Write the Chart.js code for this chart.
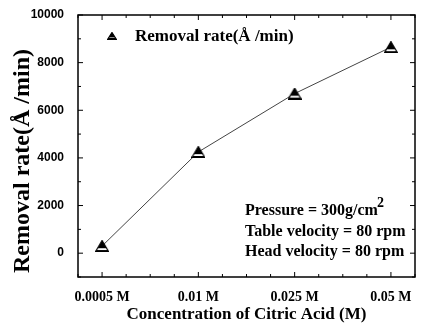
<!DOCTYPE html>
<html>
<head>
<meta charset="utf-8">
<script src="https://cdn.jsdelivr.net/npm/chart.js@4/dist/chart.umd.min.js"></script>
<style>
  html, body { margin: 0; padding: 0; background: #fff; }
  #wrap { width: 423px; height: 325px; }
</style>
</head>
<body>
<div id="wrap"><canvas id="RateChart" width="423" height="325"></canvas></div>
<script>
// data
const concLabels = ["0.0005 M", "0.01 M", "0.025 M", "0.05 M"];
const removalRate = [300, 4250, 6700, 8650];
const yTicks = [0, 2000, 4000, 6000, 8000, 10000];
const notes = ["Pressure = 300g/cm", "Table velocity = 80 rpm", "Head velocity = 80 rpm"];

const points = removalRate.map((v, i) => ({ x: i, y: v }));

const SERIF = "'Liberation Serif', 'Times New Roman', serif";

// scanned-looking triangle marker: black top, white band, black base
function makeMarker(w, h) {
  const c = document.createElement("canvas");
  c.width = w; c.height = h;
  const g = c.getContext("2d");
  const tri = () => {
    g.beginPath();
    g.moveTo(w / 2, 0.5); g.lineTo(w - 0.5, h - 0.5); g.lineTo(0.5, h - 0.5); g.closePath();
  };
  tri();
  g.fillStyle = "#fff";
  g.fill();
  g.save();
  g.clip();
  g.fillStyle = "#000";
  g.fillRect(0, 0, w, h * 0.68);
  g.fillRect(0, h - 2, w, 2);
  g.restore();
  tri();
  g.strokeStyle = "#000";
  g.lineWidth = 1.2;
  g.stroke();
  return c;
}
const marker = makeMarker(14, 12);

// box + inward tick marks, legend, notes and the y title
const framePlugin = {
  id: "frame",
  afterDraw(chart) {
    const ctx = chart.ctx;
    const a = chart.chartArea;
    const xs = chart.scales.x, ys = chart.scales.y;
    ctx.save();
    ctx.strokeStyle = "#000";
    ctx.lineWidth = 1.5;
    ctx.strokeRect(a.left, a.top, a.right - a.left, a.bottom - a.top);
    ctx.lineWidth = 1;
    for (let v = -1000; v <= 10000; v += 1000) {
      const y = ys.getPixelForValue(v);
      const len = v % 2000 === 0 ? 5 : 3;
      ctx.beginPath();
      ctx.moveTo(a.left, y); ctx.lineTo(a.left + len, y);
      ctx.moveTo(a.right, y); ctx.lineTo(a.right - len, y);
      ctx.stroke();
    }
    for (let v = -0.25; v <= 3.25; v += 0.25) {
      const x = xs.getPixelForValue(v);
      const len = Math.abs(v - Math.round(v)) < 0.01 ? 5 : 3;
      ctx.beginPath();
      ctx.moveTo(x, a.bottom); ctx.lineTo(x, a.bottom - len);
      ctx.moveTo(x, a.top); ctx.lineTo(x, a.top + len);
      ctx.stroke();
    }
    // legend
    ctx.drawImage(makeMarker(10, 8), 107, 32);
    ctx.fillStyle = "#000";
    ctx.font = "bold 17px " + SERIF;
    ctx.textBaseline = "middle";
    ctx.textAlign = "left";
    ctx.fillText("Removal rate(Å /min)", 135, 37);
    // notes
    ctx.font = "bold 16px " + SERIF;
    ctx.fillText(notes[0], 245, 211);
    const w = ctx.measureText(notes[0]).width;
    ctx.font = "bold 14px " + SERIF;
    ctx.fillText("2", 245 + w - 1, 203);
    ctx.font = "bold 16px " + SERIF;
    ctx.fillText(notes[1], 245, 232);
    ctx.fillText(notes[2], 245, 252);
    // y title
    ctx.translate(23, 161);
    ctx.rotate(-Math.PI / 2);
    ctx.textAlign = "center";
    ctx.font = "bold 24px " + SERIF;
    ctx.fillText("Removal rate(Å /min)", 0, 0);
    ctx.restore();
  }
};

new Chart(document.getElementById("RateChart"), {
  type: "scatter",
  data: {
    datasets: [{
      label: "Removal rate(Å /min)",
      data: points,
      showLine: true,
      borderColor: "#444",
      borderWidth: 1,
      pointStyle: marker,
      pointRadius: 7
    }]
  },
  options: {
    responsive: false,
    animation: false,
    layout: { padding: { top: 15, right: 5, left: 0, bottom: 0 } },
    plugins: { legend: { display: false }, tooltip: { enabled: false } },
    scales: {
      x: {
        type: "linear",
        min: -0.25,
        max: 3.25,
        afterBuildTicks(scale) {
          scale.ticks = concLabels.map((_, i) => ({ value: i }));
        },
        ticks: {
          callback: v => concLabels[v],
          color: "#000",
          font: { family: SERIF, size: 14, weight: "bold" },
          padding: 4,
          maxRotation: 0
        },
        grid: { display: false },
        border: { display: false },
        title: {
          display: true,
          text: "Concentration of Citric Acid (M)",
          color: "#000",
          font: { family: SERIF, size: 17, weight: "bold" },
          padding: { top: 0, bottom: 0 }
        },
        afterFit(scale) { scale.height = 48; }
      },
      y: {
        min: -1000,
        max: 10000,
        afterBuildTicks(scale) {
          scale.ticks = yTicks.map(v => ({ value: v }));
        },
        ticks: {
          callback: v => String(v),
          color: "#000",
          font: { family: "'Liberation Sans', Arial, sans-serif", size: 12, weight: "bold" },
          padding: 6
        },
        grid: { display: false },
        border: { display: false },
        afterFit(scale) { scale.width = 78; }
      }
    }
  },
  plugins: [framePlugin]
});
</script>
</body>
</html>
